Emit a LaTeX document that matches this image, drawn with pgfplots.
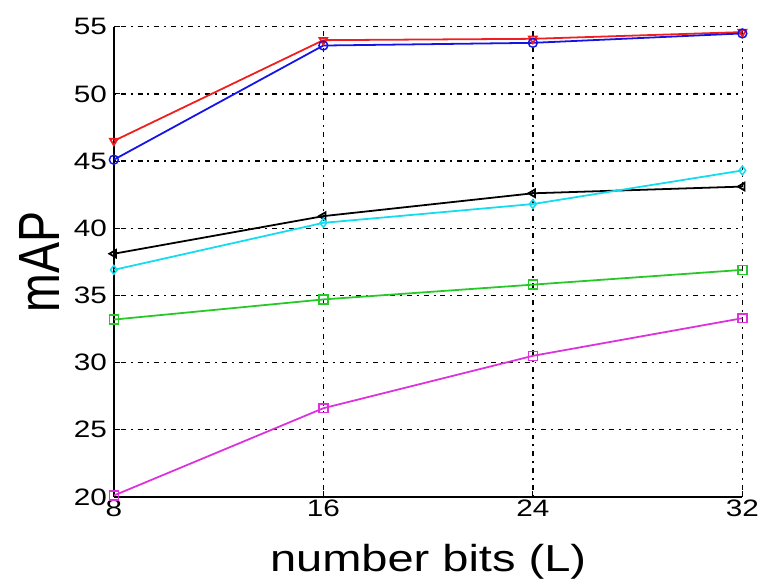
\documentclass[border=0pt]{standalone}
\usepackage{pgfplots}
\pgfplotsset{compat=1.18}
\usepackage{graphicx}
\usepackage{fontspec}
\setmainfont{Liberation Sans}
\definecolor{cR}{RGB}{240,30,30}
\definecolor{cB}{RGB}{20,20,230}
\definecolor{cC}{RGB}{20,220,240}
\definecolor{cG}{RGB}{40,200,40}
\definecolor{cM}{RGB}{220,50,220}
\begin{document}
\begin{tikzpicture}[x=1pt,y=1pt]
\begin{axis}[
  at={(0,0)}, anchor=south west,
  scale only axis,
  width=635pt, height=475pt,
  xmin=8, xmax=32, ymin=20, ymax=55,
  xtick={8,16,24,32}, ytick={20,25,30,35,40,45,50,55},
  axis lines=left, axis line style={-, line width=1.6pt},
  tick align=inside, major tick length=6pt,
  tick style={black, line width=1pt},
  grid=major,
  grid style={black, line width=1.4pt, dash pattern=on 2pt off 5pt on 5pt off 5pt},
  /pgf/number format/assume math mode=true,
  tick label style={font=\fontsize{24}{26}\selectfont, xscale=1.25},
  xticklabel style={yshift=0pt},
  yticklabel style={xshift=-2pt},
  xlabel={\scalebox{1.25}[1]{\fontsize{38}{40}\selectfont number bits (L)}},
  ylabel={\scalebox{1}[1.25]{\fontsize{47}{49}\selectfont mAP}},
  xlabel style={at={(rel axis cs:0.5,0)}, anchor=base, yshift=-75pt},
  ylabel style={at={(rel axis cs:0,0.5)}, anchor=center, yshift=75pt},
  every axis plot/.append style={line width=1.8pt, mark size=4.5pt, mark options={solid, line width=1.5pt}},
]
\addplot[cR, mark=triangle, mark options={rotate=180}] coordinates {(8,46.5) (16,54.0) (24,54.1) (32,54.6)};
\addplot[cB, mark=o] coordinates {(8,45.1) (16,53.6) (24,53.8) (32,54.5)};
\addplot[black, mark=triangle, mark options={rotate=90}] coordinates {(8,38.1) (16,40.9) (24,42.6) (32,43.1)};
\addplot[cC, mark=diamond] coordinates {(8,36.9) (16,40.4) (24,41.8) (32,44.3)};
\addplot[cG, mark=square] coordinates {(8,33.2) (16,34.7) (24,35.8) (32,36.9)};
\addplot[cM, mark=square] coordinates {(8,20.1) (16,26.6) (24,30.5) (32,33.3)};
\end{axis}
\path[use as bounding box] (-115,-87) rectangle (648,502);
\end{tikzpicture}
\end{document}
